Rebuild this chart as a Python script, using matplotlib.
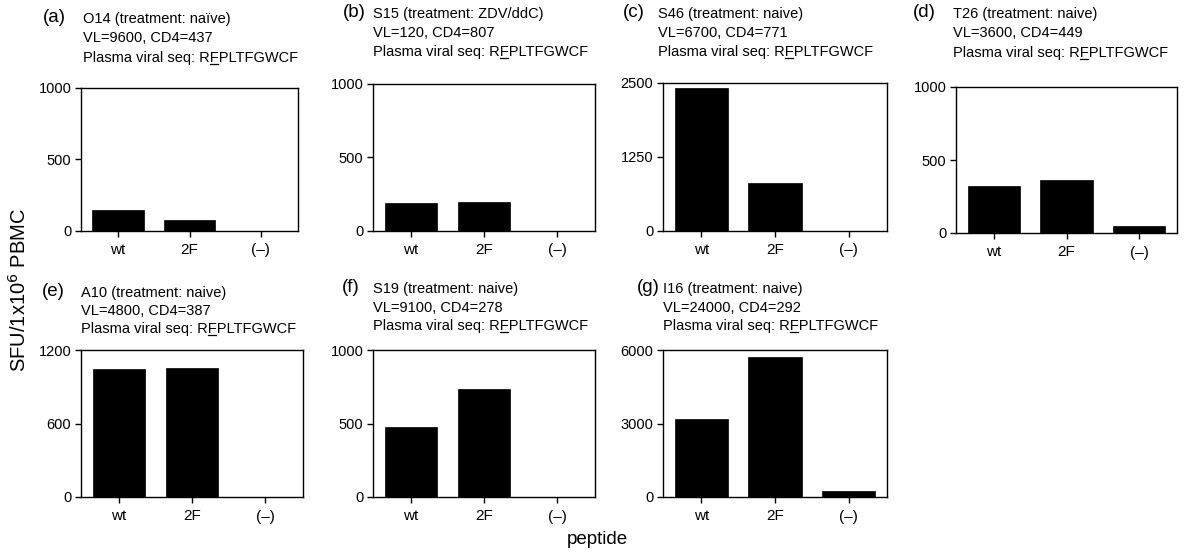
import numpy as np
import matplotlib
matplotlib.use("Agg")
import matplotlib.pyplot as plt
from matplotlib.lines import Line2D

plt.rcParams["font.family"] = ["Liberation Sans", "DejaVu Sans"]

# ----------------------------------------------------------------------
# Data
# ----------------------------------------------------------------------
peptides = ["wt", "2F", "(\u2013)"]

panel_tags = ["(a)", "(b)", "(c)", "(d)", "(e)", "(f)", "(g)"]
patients = ["O14", "S15", "S46", "T26", "A10", "S19", "I16"]
treatments = ["na\u00efve", "ZDV/ddC", "naive", "naive", "naive", "naive", "naive"]
viral_load = [9600, 120, 6700, 3600, 4800, 9100, 24000]
cd4_count = [437, 807, 771, 449, 387, 278, 292]

sfu_wt = [147, 188, 2410, 322, 1045, 478, 3190]
sfu_2f = [77, 200, 805, 361, 1053, 735, 5730]
sfu_neg = [0, 0, 0, 48, 0, 0, 230]

y_max = [1000, 1000, 2500, 1000, 1200, 1000, 6000]

W, H = 1194, 554

# axes boxes in pixels: left, top, right, bottom
boxes = [
    (81, 88, 298, 231),
    (373, 84, 595, 231),
    (663, 83, 887, 231),
    (956, 87, 1177, 233),
    (81, 350, 303, 497),
    (373, 350, 595, 497),
    (663, 350, 887, 497),
]
# left edge of the panel tag and of the header text
tag_x = [43, 343, 623, 913, 42, 342, 637]
text_x = [83, 373, 658, 953, 81, 373, 663]
# baselines of the three header lines for each panel
baselines = [
    (23, 42, 62),
    (18, 37, 56),
    (18, 37, 56),
    (18, 37, 57),
    (297, 315, 333),
    (293, 312, 330),
    (293, 312, 330),
]


def fx(x):
    return x / W


def fy(y):
    return 1 - y / H


def main() -> None:
    fig = plt.figure(figsize=(W / 100, H / 100), dpi=100)
    renderer = fig.canvas.get_renderer()

    x = np.arange(len(peptides))
    fs_txt = 10.5

    for i in range(len(patients)):
        l, t, r, b = boxes[i]
        ax = fig.add_axes([fx(l), fy(b), (r - l) / W, (b - t) / H])
        vals = [sfu_wt[i], sfu_2f[i], sfu_neg[i]]
        ax.bar(x, vals, width=0.72, color="black", edgecolor="black", linewidth=0.5)
        ax.set_xlim(-0.52, 2.52)
        ax.set_ylim(0, y_max[i])
        yt = [0, y_max[i] / 2, y_max[i]]
        ax.set_yticks(yt)
        ax.set_yticklabels([f"{v:g}" for v in yt])
        ax.set_xticks(x)
        ax.set_xticklabels(peptides)
        ax.tick_params(direction="out", length=4, width=1, labelsize=10.5, pad=3)
        ax.tick_params(axis="x", pad=5, labelsize=11)
        for sp in ax.spines.values():
            sp.set_linewidth(1.0)

        b1, b2, b3 = baselines[i]
        tx = text_x[i]
        fig.text(fx(tag_x[i]), fy(b1 - 1), panel_tags[i], ha="left", va="baseline",
                 fontsize=13.5)
        fig.text(fx(tx), fy(b1), f"{patients[i]} (treatment: {treatments[i]})",
                 ha="left", va="baseline", fontsize=fs_txt)
        fig.text(fx(tx), fy(b2), f"VL={viral_load[i]}, CD4={cd4_count[i]}",
                 ha="left", va="baseline", fontsize=fs_txt)
        seq_txt = "Plasma viral seq: RFPLTFGWCF"
        fig.text(fx(tx), fy(b3), seq_txt, ha="left", va="baseline", fontsize=fs_txt)

        # underline the mutated F (position 2 of the epitope)
        widths = []
        for pre in ["Plasma viral seq: R", "Plasma viral seq: RF"]:
            tmp = fig.text(fx(tx), fy(b3), pre, ha="left", va="baseline", fontsize=fs_txt)
            widths.append(tmp.get_window_extent(renderer).width)
            tmp.remove()
        x0, x1 = tx + widths[0] + 0.5, tx + widths[1] - 0.5
        fig.add_artist(Line2D([fx(x0), fx(x1)], [fy(b3 + 2), fy(b3 + 2)],
                              transform=fig.transFigure, color="black", lw=0.9))

    fig.text(fx(19), fy(290), "SFU/1x10$^6$ PBMC", rotation=90, ha="center",
             va="center", fontsize=14.5)
    fig.text(fx(597), fy(540), "peptide", ha="center", va="center", fontsize=13.5)

    fig.savefig("out.png", dpi=100)


if __name__ == "__main__":
    main()
